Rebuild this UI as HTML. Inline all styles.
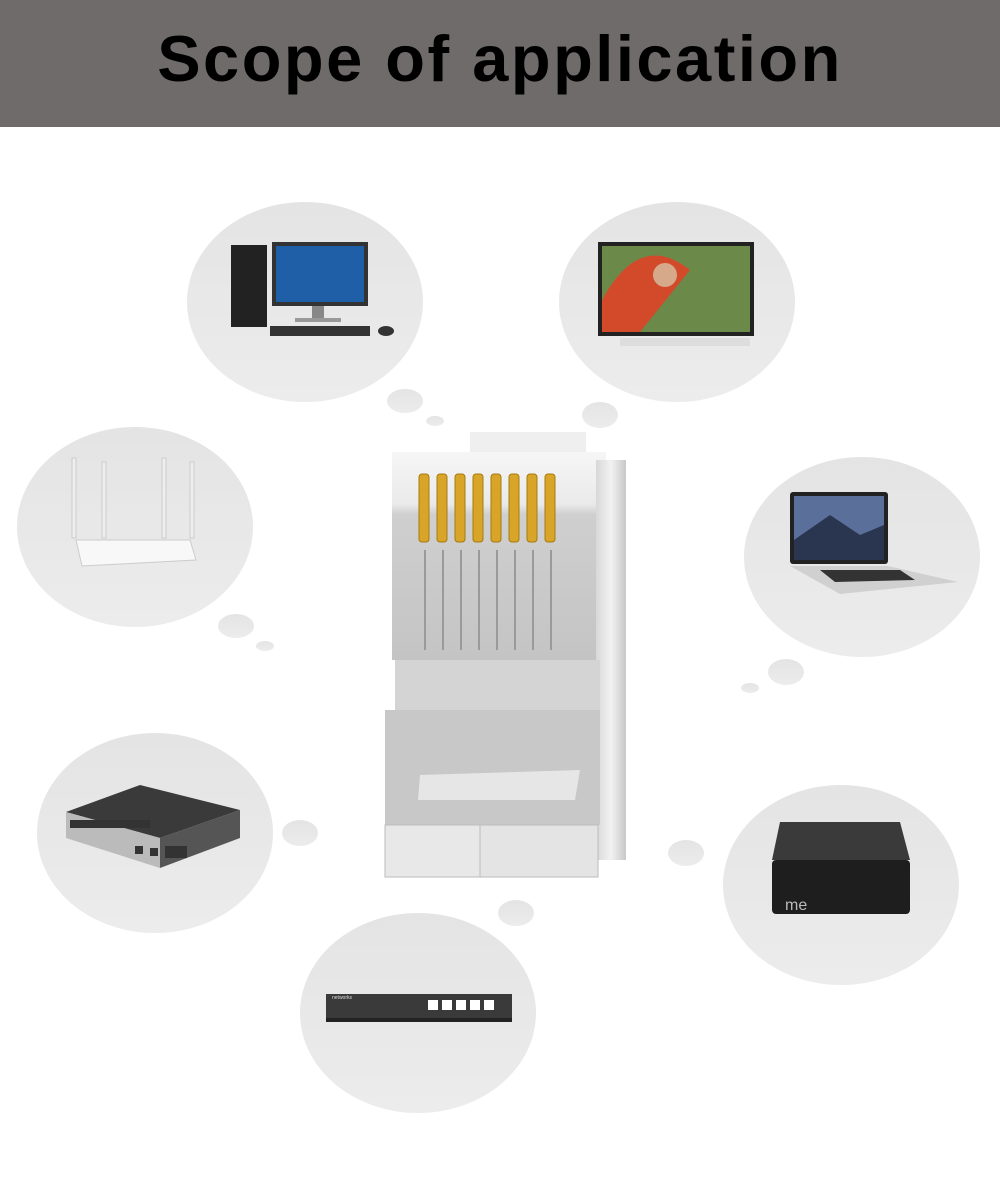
<!DOCTYPE html>
<html><head><meta charset="utf-8"><style>
html,body{margin:0;padding:0;background:#fff;}
body{width:1000px;height:1178px;position:relative;overflow:hidden;font-family:"Liberation Sans",sans-serif;}
.hdr{position:absolute;left:0;top:0;width:1000px;height:127px;background:#6f6b6a;}
.hdr h1{margin:0;text-align:center;font-size:65px;font-weight:bold;color:#000;line-height:118px;letter-spacing:2.5px;}
svg{position:absolute;left:0;top:0;}
</style></head><body>
<div class="hdr"><h1>Scope of application</h1></div>
<svg width="1000" height="1178" viewBox="0 0 1000 1178">
<defs>
<linearGradient id="bub" x1="0" y1="0" x2="0" y2="1"><stop offset="0" stop-color="#e4e4e4"/><stop offset="1" stop-color="#ececec"/></linearGradient>
<linearGradient id="plas" x1="0" y1="0" x2="0" y2="1"><stop offset="0" stop-color="#f6f6f6"/><stop offset="0.25" stop-color="#eaeaea"/><stop offset="0.3" stop-color="#cfcfcf"/><stop offset="1" stop-color="#c4c4c4"/></linearGradient>
<linearGradient id="metal" x1="0" y1="0" x2="1" y2="0"><stop offset="0" stop-color="#d8d8d8"/><stop offset="0.5" stop-color="#f2f2f2"/><stop offset="1" stop-color="#c8c8c8"/></linearGradient>
</defs>
<g fill="url(#bub)">
<ellipse cx="305" cy="302" rx="118" ry="100"/>
<ellipse cx="677" cy="302" rx="118" ry="100"/>
<ellipse cx="135" cy="527" rx="118" ry="100"/>
<ellipse cx="862" cy="557" rx="118" ry="100"/>
<ellipse cx="155" cy="833" rx="118" ry="100"/>
<ellipse cx="841" cy="885" rx="118" ry="100"/>
<ellipse cx="418" cy="1013" rx="118" ry="100"/>
<ellipse cx="405" cy="401" rx="18" ry="12"/><ellipse cx="435" cy="421" rx="9" ry="5"/>
<ellipse cx="600" cy="415" rx="18" ry="13"/>
<ellipse cx="236" cy="626" rx="18" ry="12"/><ellipse cx="265" cy="646" rx="9" ry="5"/>
<ellipse cx="786" cy="672" rx="18" ry="13"/><ellipse cx="750" cy="688" rx="9" ry="5"/>
<ellipse cx="300" cy="833" rx="18" ry="13"/>
<ellipse cx="686" cy="853" rx="18" ry="13"/>
<ellipse cx="516" cy="913" rx="18" ry="13"/>
</g>
<rect x="231" y="245" width="36" height="82" fill="#222"/>
<rect x="272" y="242" width="96" height="64" fill="#333"/><rect x="276" y="246" width="88" height="56" fill="#1f5fa8"/>
<rect x="312" y="306" width="12" height="14" fill="#888"/><rect x="295" y="318" width="46" height="4" fill="#999"/>
<rect x="270" y="326" width="100" height="10" fill="#333"/><ellipse cx="386" cy="331" rx="8" ry="5" fill="#333"/>
<rect x="598" y="242" width="156" height="94" fill="#222"/>
<rect x="602" y="246" width="148" height="86" fill="#6b8a4a"/>
<path d="M602 300 Q640 230 690 270 L640 332 L602 332Z" fill="#d24a2a"/>
<circle cx="665" cy="275" r="12" fill="#d6a98a"/>
<rect x="620" y="338" width="130" height="8" fill="#ddd"/>
<rect x="72" y="458" width="4" height="80" fill="#eee" stroke="#ccc"/>
<rect x="102" y="462" width="4" height="76" fill="#eee" stroke="#ccc"/>
<rect x="162" y="458" width="4" height="80" fill="#eee" stroke="#ccc"/>
<rect x="190" y="462" width="4" height="76" fill="#eee" stroke="#ccc"/>
<path d="M76 540 L190 540 L196 560 L82 566Z" fill="#f8f8f8" stroke="#ccc"/>
<rect x="790" y="492" width="98" height="72" rx="3" fill="#222"/>
<rect x="794" y="496" width="90" height="64" fill="#5a6f9a"/>
<path d="M794 540 L830 515 L860 535 L884 525 L884 560 L794 560Z" fill="#2a3550"/>
<path d="M790 566 L888 566 L958 582 L840 594 Z" fill="#d0d0d0"/>
<path d="M820 570 L900 570 L915 580 L835 582Z" fill="#333"/>
<path d="M66 812 L140 785 L240 810 L160 838Z" fill="#3a3a3a"/>
<path d="M66 812 L160 838 L160 868 L66 838Z" fill="#bbb"/>
<path d="M160 838 L240 810 L240 838 L160 868Z" fill="#555"/>
<g fill="#333"><rect x="70" y="820" width="80" height="8"/><rect x="135" y="846" width="8" height="8"/><rect x="150" y="848" width="8" height="8"/><rect x="165" y="846" width="22" height="12"/></g>
<path d="M772 860 L780 822 L900 822 L910 860Z" fill="#3a3a3a"/>
<rect x="772" y="860" width="138" height="54" rx="4" fill="#1e1e1e"/>
<text x="785" y="910" font-size="16" fill="#bbb" font-family="Liberation Sans, sans-serif">me</text>
<rect x="326" y="994" width="186" height="24" fill="#3a3a3a"/>
<rect x="326" y="1018" width="186" height="4" fill="#222"/>
<g fill="#fff"><rect x="428" y="1000" width="10" height="10"/><rect x="442" y="1000" width="10" height="10"/><rect x="456" y="1000" width="10" height="10"/><rect x="470" y="1000" width="10" height="10"/><rect x="484" y="1000" width="10" height="10"/></g>
<text x="332" y="999" font-size="5" fill="#ddd" font-family="Liberation Sans, sans-serif">networks</text>
<rect x="470" y="432" width="116" height="22" fill="#efefef"/>
<rect x="392" y="452" width="214" height="208" fill="url(#plas)"/>
<rect x="596" y="460" width="30" height="400" fill="url(#metal)"/>
<g fill="#d9a528" stroke="#a67a10" stroke-width="1">
<rect x="419" y="474" width="10" height="68" rx="3"/><rect x="437" y="474" width="10" height="68" rx="3"/><rect x="455" y="474" width="10" height="68" rx="3"/><rect x="473" y="474" width="10" height="68" rx="3"/>
<rect x="491" y="474" width="10" height="68" rx="3"/><rect x="509" y="474" width="10" height="68" rx="3"/><rect x="527" y="474" width="10" height="68" rx="3"/><rect x="545" y="474" width="10" height="68" rx="3"/>
</g>
<g stroke="#9a9a9a" stroke-width="2">
<line x1="425" y1="550" x2="425" y2="650"/><line x1="443" y1="550" x2="443" y2="650"/><line x1="461" y1="550" x2="461" y2="650"/><line x1="479" y1="550" x2="479" y2="650"/>
<line x1="497" y1="550" x2="497" y2="650"/><line x1="515" y1="550" x2="515" y2="650"/><line x1="533" y1="550" x2="533" y2="650"/><line x1="551" y1="550" x2="551" y2="650"/>
</g>
<rect x="395" y="660" width="205" height="50" fill="#d4d4d4"/>
<rect x="385" y="710" width="215" height="115" fill="#c8c8c8"/>
<path d="M420 775 L580 770 L575 800 L418 800Z" fill="#e6e6e6"/>
<rect x="385" y="825" width="95" height="52" fill="#e8e8e8" stroke="#bbb"/>
<rect x="480" y="825" width="118" height="52" fill="#e4e4e4" stroke="#bbb"/>
</svg>
</body></html>
